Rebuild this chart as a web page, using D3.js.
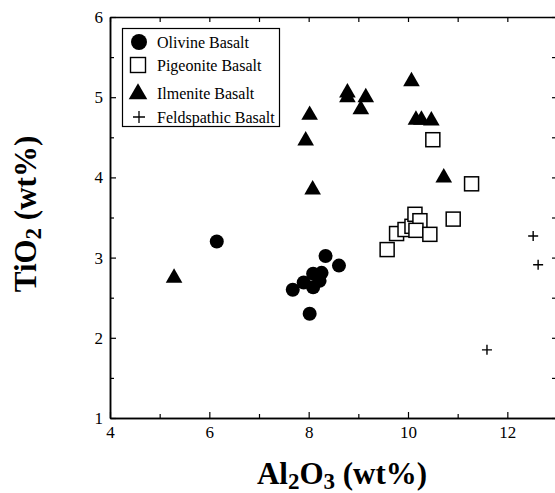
<!DOCTYPE html>
<html>
<head>
<meta charset="utf-8">
<script src="https://cdn.jsdelivr.net/npm/d3@7"></script>
<style>
  body { margin: 0; background: #fff; }
  svg { display: block; }
  svg text { font-family: "Liberation Serif", "Times New Roman", serif; }
</style>
</head>
<body>
<div id="vis-holder"></div>
<script>
// Data: [Al2O3, TiO2]
const olivine = [[6.15, 3.20], [8.02, 2.30], [7.68, 2.60], [7.90, 2.69], [8.09, 2.80],
                 [8.26, 2.81], [8.09, 2.63], [8.22, 2.71], [8.34, 3.02], [8.61, 2.90]];
const pigeonite = [[10.50, 4.47], [11.28, 3.92], [10.91, 3.48], [9.58, 3.10], [9.77, 3.30],
                   [9.94, 3.35], [10.08, 3.39], [10.14, 3.54], [10.24, 3.46], [10.16, 3.34],
                   [10.44, 3.29]];
const ilmenite = [[5.29, 2.76], [8.08, 3.86], [8.02, 4.79], [7.94, 4.47], [8.78, 5.07],
                  [8.78, 5.01], [9.15, 5.01], [9.05, 4.86], [10.07, 5.21], [10.16, 4.73],
                  [10.27, 4.73], [10.47, 4.72], [10.72, 4.01]];
const feldspathic = [[12.52, 3.27], [12.62, 2.91], [11.59, 1.85]];

const seriesNames = ["Olivine Basalt", "Pigeonite Basalt", "Ilmenite Basalt", "Feldspathic Basalt"];
const xMajor = [4, 6, 8, 10, 12];
const xMinor = [5, 7, 9, 11, 13];
const yMajor = [1, 2, 3, 4, 5, 6];
const yMinor = [1.5, 2.5, 3.5, 4.5, 5.5];

// Set margins and dimensions
const width = 555;
const height = 493;
const plot = { left: 110, right: 557, top: 17, bottom: 418 };

const svg = d3.select("#vis-holder")
  .append("svg")
  .attr("width", width)
  .attr("height", height);

const x = d3.scaleLinear().domain([4, 13]).range([plot.left, plot.right]);
const y = d3.scaleLinear().domain([1, 6]).range([plot.bottom, plot.top]);

// Axes with inward ticks
function styleAxis(g) {
  g.attr("font-family", null);
  g.select(".domain").attr("stroke", "#000").attr("stroke-width", 1.5);
  g.selectAll(".tick line").attr("stroke", "#000").attr("stroke-width", 1.2);
  g.selectAll(".tick text").attr("fill", "#000").attr("font-size", 17);
}

svg.append("g")
  .attr("transform", `translate(0,${plot.bottom})`)
  .call(d3.axisBottom(x).tickValues(xMajor).tickSize(-6).tickPadding(8).tickFormat(d3.format("d")).tickSizeOuter(0))
  .call(styleAxis);
svg.append("g")
  .attr("transform", `translate(0,${plot.bottom})`)
  .call(d3.axisBottom(x).tickValues(xMinor).tickSize(-4).tickFormat("").tickSizeOuter(0))
  .call(styleAxis);

svg.append("g")
  .attr("transform", `translate(0,${plot.top})`)
  .call(d3.axisTop(x).tickValues(xMajor.concat(xMinor)).tickSize(-5).tickFormat("").tickSizeOuter(0))
  .call(styleAxis);

svg.append("g")
  .attr("transform", `translate(${plot.left},0)`)
  .call(d3.axisLeft(y).tickValues(yMajor).tickSize(-6).tickPadding(7).tickFormat(d3.format("d")).tickSizeOuter(0))
  .call(styleAxis);
svg.append("g")
  .attr("transform", `translate(${plot.left},0)`)
  .call(d3.axisLeft(y).tickValues(yMinor).tickSize(-4).tickFormat("").tickSizeOuter(0))
  .call(styleAxis);

svg.append("g")
  .attr("transform", `translate(${plot.right},0)`)
  .call(d3.axisRight(y).tickValues(yMajor.concat(yMinor)).tickSize(-5).tickFormat("").tickSizeOuter(0))
  .call(styleAxis);

// Markers
const tri = d3.symbol().type(d3.symbolTriangle).size(120);

svg.append("g").selectAll("circle")
  .data(olivine).enter()
  .append("circle")
  .attr("cx", d => x(d[0]))
  .attr("cy", d => y(d[1]))
  .attr("r", 7)
  .attr("fill", "#000");

svg.append("g").selectAll("rect")
  .data(pigeonite).enter()
  .append("rect")
  .attr("x", d => x(d[0]) - 7)
  .attr("y", d => y(d[1]) - 7)
  .attr("width", 14)
  .attr("height", 14)
  .attr("fill", "#fff")
  .attr("stroke", "#000")
  .attr("stroke-width", 1.5);

svg.append("g").selectAll("path")
  .data(ilmenite).enter()
  .append("path")
  .attr("d", tri)
  .attr("transform", d => `translate(${x(d[0])},${y(d[1]) + 1})`)
  .attr("fill", "#000");

svg.append("g").selectAll("path")
  .data(feldspathic).enter()
  .append("path")
  .attr("d", "M-5,0H5M0,-5V5")
  .attr("transform", d => `translate(${x(d[0])},${y(d[1])})`)
  .attr("stroke", "#000")
  .attr("stroke-width", 1.4)
  .attr("fill", "none");

// Legend
const legend = svg.append("g");
legend.append("rect")
  .attr("x", 122.5).attr("y", 28.5)
  .attr("width", 157).attr("height", 98)
  .attr("fill", "#fff").attr("stroke", "#000").attr("stroke-width", 1.2);

const rowY = [42, 65, 93, 117];
legend.append("circle").attr("cx", 139).attr("cy", rowY[0]).attr("r", 8).attr("fill", "#000");
legend.append("rect").attr("x", 130.5).attr("y", rowY[1] - 7.5).attr("width", 15).attr("height", 15)
  .attr("fill", "#fff").attr("stroke", "#000").attr("stroke-width", 1.4);
legend.append("path").attr("d", d3.symbol().type(d3.symbolTriangle).size(150))
  .attr("transform", `translate(138,${rowY[2] + 1})`).attr("fill", "#000");
legend.append("path").attr("d", "M-6,0H6M0,-6V6")
  .attr("transform", `translate(139,${rowY[3]})`)
  .attr("stroke", "#000").attr("stroke-width", 1.3);

legend.selectAll("text")
  .data(seriesNames).enter()
  .append("text")
  .attr("x", 157)
  .attr("y", (d, i) => rowY[i])
  .attr("dy", "0.35em")
  .attr("font-size", 16)
  .attr("fill", "#000")
  .text(d => d);

// Axis titles
const xTitle = svg.append("text")
  .attr("x", 342).attr("y", 484)
  .attr("text-anchor", "middle")
  .attr("font-size", 31).attr("font-weight", "bold");
xTitle.append("tspan").text("Al");
xTitle.append("tspan").attr("font-size", 23).attr("dy", 5).text("2");
xTitle.append("tspan").attr("dy", -5).text("O");
xTitle.append("tspan").attr("font-size", 23).attr("dy", 5).text("3");
xTitle.append("tspan").attr("dy", -5).text(" (wt%)");

const yTitle = svg.append("text")
  .attr("transform", "translate(36,214) rotate(-90)")
  .attr("text-anchor", "middle")
  .attr("font-size", 31).attr("font-weight", "bold");
yTitle.append("tspan").text("TiO");
yTitle.append("tspan").attr("font-size", 23).attr("dy", 5).text("2");
yTitle.append("tspan").attr("dy", -5).text(" (wt%)");
</script>
</body>
</html>
